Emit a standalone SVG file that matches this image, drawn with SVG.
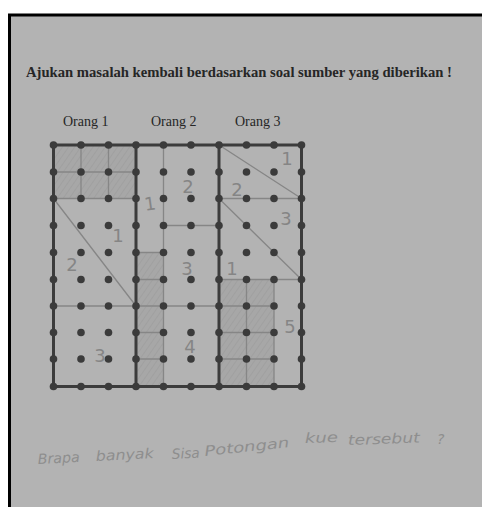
<svg xmlns="http://www.w3.org/2000/svg" width="482" height="507" viewBox="0 0 482 507">
  <defs>
    <pattern id="hatch" width="5" height="5" patternUnits="userSpaceOnUse" patternTransform="rotate(35)">
      <rect width="5" height="5" fill="#a7a7a7"/>
      <line x1="0" y1="0" x2="0" y2="5" stroke="#9e9e9e" stroke-width="1.6"/>
    </pattern>
    <circle id="d" r="3.8" fill="#3b3b3b"/>
  </defs>
  <style>
    .thick{stroke:#3c3c3c;stroke-width:3;fill:none;stroke-linecap:round}
    .thin{stroke:#868686;stroke-width:1.3;fill:none}
    .shade{fill:url(#hatch)}
    .hw{font-family:"DejaVu Sans","Liberation Sans",sans-serif;fill:#858585;font-size:18px;text-anchor:middle}
    .hand{font-family:"DejaVu Sans","Liberation Sans",sans-serif;fill:#8e8e8e;font-size:14px;font-style:italic}
  </style>
  <rect width="482" height="507" fill="#ffffff"/>
  <rect x="9.5" y="15" width="480" height="500" fill="#b3b3b3" stroke="#000" stroke-width="3"/>

  <text x="26" y="77" font-family="Liberation Serif, serif" font-weight="bold" font-size="15" fill="#262626" textLength="426" lengthAdjust="spacingAndGlyphs">Ajukan masalah kembali berdasarkan soal sumber yang diberikan !</text>
  <g font-family="Liberation Serif, serif" font-size="14" fill="#262626">
    <text x="63" y="126">Orang 1</text>
    <text x="151" y="126">Orang 2</text>
    <text x="235" y="126">Orang 3</text>
  </g>

  <g id="orang1">
    <rect class="shade" x="53.5" y="145" width="82.5" height="53.5"/>
    <path class="thin" d="M81 145V198.5M108.5 145V198.5M53.5 172H136M53.5 198.5H136M53.5 198.5L136 306M53.5 306H136"/>
    <text class="hw" x="118" y="242">1</text>
    <text class="hw" x="72" y="271">2</text>
    <text class="hw" x="100" y="362">3</text>
  </g>

  <g id="orang2">
    <rect class="shade" x="136" y="252.5" width="27.5" height="134"/>
    <path class="thin" d="M163.5 145V386.5M163.5 225.5H219M136 252.5H163.5M136 279.5H163.5M136 306H219M136 332.5H163.5M136 359H163.5"/>
    <text class="hw" x="150" y="210" transform="rotate(-8 150 204)">1</text>
    <text class="hw" x="188" y="193">2</text>
    <text class="hw" x="187" y="275">3</text>
    <text class="hw" x="190" y="353">4</text>
  </g>

  <g id="orang3">
    <rect class="shade" x="219" y="279.5" width="55" height="107"/>
    <path class="thin" d="M219 145L301.5 198.5M219 198.5H301.5M219 198.5L301.5 279.5M219 279.5H301.5M246.5 279.5V386.5M274 279.5V386.5M219 306H274M219 332.5H274M219 359H274"/>
    <text class="hw" x="287" y="165">1</text>
    <text class="hw" x="237" y="196">2</text>
    <text class="hw" x="286" y="225">3</text>
    <text class="hw" x="232" y="275">1</text>
    <text class="hw" x="290" y="333">5</text>
  </g>

  <g id="connectors">
    <path class="thick" d="M53.5 145H301.5M53.5 386.5H301.5M53.5 145V386.5M136 145V386.5M219 145V386.5M301.5 145V386.5"/>
  </g>

  <g id="dots">
    <g id="row0"><use href="#d" x="53.5" y="145"/><use href="#d" x="81" y="145"/><use href="#d" x="108.5" y="145"/><use href="#d" x="136" y="145"/><use href="#d" x="163.5" y="145"/><use href="#d" x="191" y="145"/><use href="#d" x="219" y="145"/><use href="#d" x="246.5" y="145"/><use href="#d" x="274" y="145"/><use href="#d" x="301.5" y="145"/></g>
    <use href="#row0" y="27"/>
    <use href="#row0" y="53.5"/>
    <use href="#row0" y="80.5"/>
    <use href="#row0" y="107.5"/>
    <use href="#row0" y="134.5"/>
    <use href="#row0" y="161"/>
    <use href="#row0" y="187.5"/>
    <use href="#row0" y="214"/>
    <use href="#row0" y="241.5"/>
  </g>

  <g class="hand">
    <text x="38" y="464" textLength="42" lengthAdjust="spacingAndGlyphs" transform="rotate(-3 38 464)">Brapa</text>
    <text x="96" y="461" textLength="58" lengthAdjust="spacingAndGlyphs" transform="rotate(-3 96 461)">banyak</text>
    <text x="172" y="459" textLength="28" lengthAdjust="spacingAndGlyphs" transform="rotate(-3 172 459)">Sisa</text>
    <text x="205" y="456" textLength="85" lengthAdjust="spacingAndGlyphs" transform="rotate(-6 205 456)">Potongan</text>
    <text x="305" y="443" textLength="33" lengthAdjust="spacingAndGlyphs" transform="rotate(-2 305 443)">kue</text>
    <text x="348" y="445" textLength="72" lengthAdjust="spacingAndGlyphs" transform="rotate(-2 348 445)">tersebut</text>
    <text x="437" y="444">?</text>
  </g>
</svg>
